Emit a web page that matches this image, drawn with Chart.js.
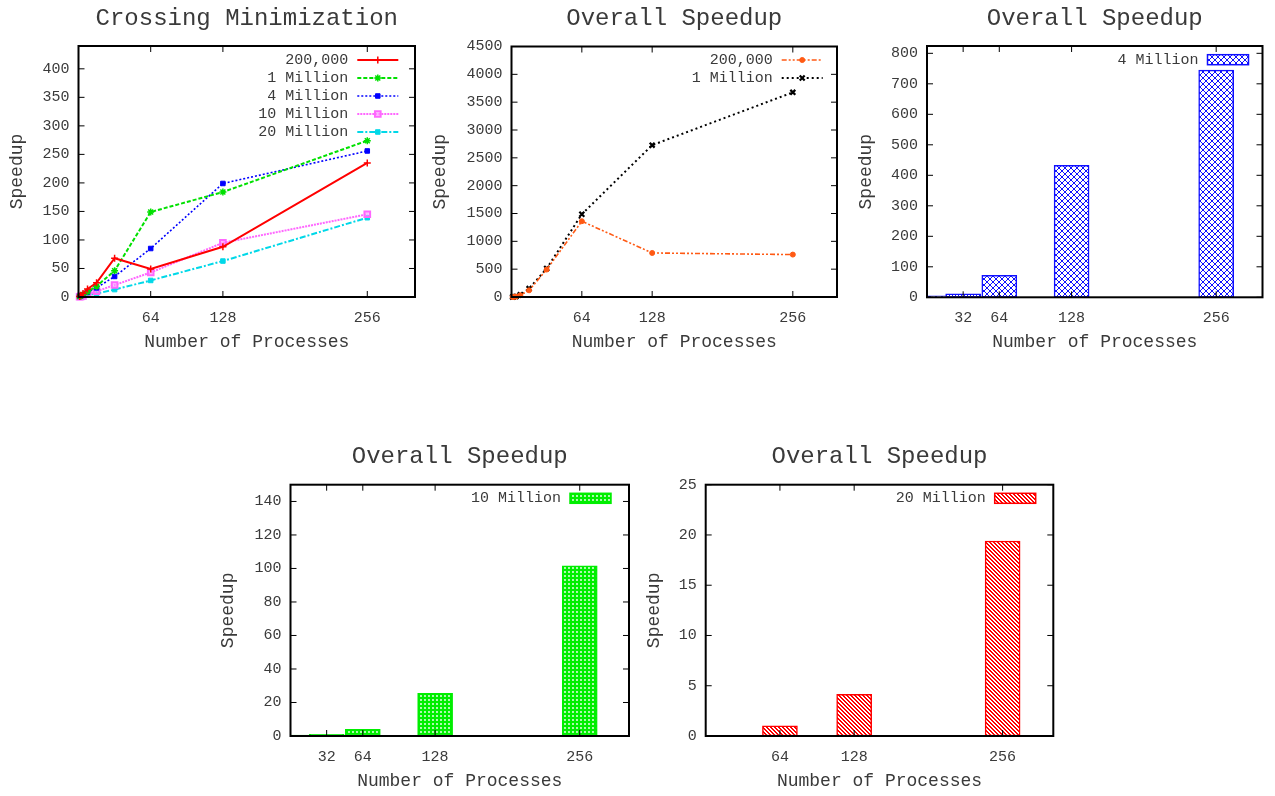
<!DOCTYPE html>
<html>
<head>
<meta charset="utf-8">
<script src="https://cdn.jsdelivr.net/npm/chart.js@4.4.0/dist/chart.umd.min.js"></script>
<style>
  html, body { margin: 0; padding: 0; background: #fff; }
  body { width: 1275px; height: 796px; position: relative; overflow: hidden; }
  canvas { position: absolute; }
</style>
</head>
<body>
<canvas id="c1"></canvas>
<canvas id="c2"></canvas>
<canvas id="c3"></canvas>
<canvas id="c4"></canvas>
<canvas id="c5"></canvas>
<script>
// ---- data ----
const procs = [1, 2, 4, 8, 16, 32, 64, 128, 256];

// Crossing Minimization speedup
const crossing200k = [1, 3, 6, 14, 25, 68, 49, 88, 235];
const crossing1M = [1, 2, 4, 9, 19, 46, 149, 184, 274];
const crossing4M = [1, 2, 4, 8, 16, 36, 85, 199, 256];
const crossing10M = [0.5, 1, 2, 5, 10, 21, 43, 95, 145];
const crossing20M = [0.5, 1, 2, 3, 6, 13, 29, 63, 139];

// Overall speedup (lines)
const overall200k = [1, 2, 8, 30, 120, 493, 1361, 791, 762];
const overall1M = [1, 3, 10, 40, 151, 511, 1487, 2728, 3676];

// Overall speedup (bars)
const procs4M = [2, 4, 8, 16, 32, 64, 128, 256];
const overall4M = [0.5, 1, 2, 5, 11, 72, 433, 745];
const procs10M = [2, 4, 8, 16, 32, 64, 128, 256];
const overall10M = [0.1, 0.15, 0.25, 0.5, 1.0, 4, 25.5, 101.5];
const procs20M = [4, 8, 16, 64, 128, 256];
const overall20M = [0.02, 0.03, 0.05, 1.0, 4.15, 19.4];

// tick labels
const xTicksA = [64, 128, 256];
const xTicksB = [32, 64, 128, 256];
const yTicks1 = [0, 50, 100, 150, 200, 250, 300, 350, 400];
const yTicks2 = [0, 500, 1000, 1500, 2000, 2500, 3000, 3500, 4000, 4500];
const yTicks3 = [0, 100, 200, 300, 400, 500, 600, 700, 800];
const yTicks4 = [0, 20, 40, 60, 80, 100, 120, 140];
const yTicks5 = [0, 5, 10, 15, 20, 25];

const MONO = "'Liberation Mono', 'DejaVu Sans Mono', monospace";
const TEXT = '#3a3a3a';

Chart.defaults.font.family = MONO;
Chart.defaults.font.size = 15;
Chart.defaults.color = TEXT;
Chart.defaults.animation = false;

function pts(xs, ys) {
  return xs.map((x, i) => ({ x: x, y: ys[i] }));
}

// gnuplot-like fill patterns for the bars (drawn pixel by pixel so they stay crisp)
function makePattern(kind, color) {
  const c = document.createElement('canvas');
  const ctx = c.getContext('2d');
  if (kind === 'hatch') {
    c.width = c.height = 4;
    ctx.fillStyle = '#fff';
    ctx.fillRect(0, 0, 4, 4);
    ctx.fillStyle = color;
    for (let i = 0; i < 4; i++) {
      ctx.fillRect(i, i, 1, 1);
      ctx.fillRect((i + 1) % 4, i, 1, 1);
    }
  } else if (kind === 'crosshatch') {
    c.width = c.height = 6;
    ctx.fillStyle = '#fff';
    ctx.fillRect(0, 0, 6, 6);
    ctx.fillStyle = color;
    for (let i = 0; i < 6; i++) {
      ctx.fillRect(i, i, 1, 1);
      ctx.fillRect(5 - i, i, 1, 1);
    }
  } else {
    c.width = c.height = 4;
    ctx.fillStyle = color;
    ctx.fillRect(0, 0, 4, 4);
    ctx.fillStyle = '#fff';
    ctx.beginPath();
    ctx.arc(2, 2, 0.9, 0, Math.PI * 2);
    ctx.fill();
  }
  return ctx.createPattern(c, 'repeat');
}

// border box with inward ticks on all four sides
const gnuFrame = {
  id: 'gnuFrame',
  afterDatasetsDraw(chart) {
    const { ctx, chartArea: a, scales } = chart;
    const x = scales.x, y = scales.y;
    ctx.save();
    ctx.strokeStyle = '#000';
    ctx.lineWidth = 1;
    ctx.beginPath();
    x.ticks.forEach(t => {
      const px = x.getPixelForValue(t.value);
      ctx.moveTo(px, a.bottom); ctx.lineTo(px, a.bottom - 6);
      ctx.moveTo(px, a.top); ctx.lineTo(px, a.top + 6);
    });
    y.ticks.forEach(t => {
      const py = y.getPixelForValue(t.value);
      ctx.moveTo(a.left, py); ctx.lineTo(a.left + 6, py);
      ctx.moveTo(a.right, py); ctx.lineTo(a.right - 6, py);
    });
    ctx.stroke();
    ctx.lineWidth = 2;
    ctx.strokeRect(a.left, a.top, a.right - a.left, a.bottom - a.top);
    ctx.restore();
  }
};

// key in the top right corner: text right aligned, sample after it
const gnuKey = {
  id: 'gnuKey',
  afterDraw(chart, args, opts) {
    const { ctx, chartArea: a } = chart;
    const end = a.right - opts.right;
    const start = end - 41;
    chart.data.datasets.forEach((ds, i) => {
      const yy = a.top + opts.top + i * 18;
      ctx.save();
      ctx.font = '15px ' + MONO;
      ctx.fillStyle = TEXT;
      ctx.textAlign = 'right';
      ctx.textBaseline = 'middle';
      ctx.fillText(ds.label, start - 9, yy);
      if (chart.config.type === 'bar') {
        ctx.fillStyle = ds.backgroundColor;
        ctx.fillRect(start, yy - 5, 41, 10);
        ctx.strokeStyle = ds.borderColor;
        ctx.lineWidth = 1.5;
        ctx.strokeRect(start, yy - 5, 41, 10);
      } else {
        ctx.strokeStyle = ds.borderColor;
        ctx.lineWidth = ds.borderWidth;
        ctx.setLineDash(ds.borderDash || []);
        ctx.beginPath();
        ctx.moveTo(start, yy);
        ctx.lineTo(end, yy);
        ctx.stroke();
        ctx.setLineDash([]);
        ctx.fillStyle = ds.pointBackgroundColor;
        ctx.strokeStyle = ds.pointBorderColor;
        ctx.lineWidth = ds.pointBorderWidth;
        Chart.helpers.drawPoint(ctx, {
          pointStyle: ds.pointStyle, radius: ds.pointRadius,
          borderWidth: ds.pointBorderWidth, rotation: 0
        }, (start + end) / 2, yy);
      }
      ctx.restore();
    });
  }
};

function makeChart(id, box, plot, cfg) {
  const canvas = document.getElementById(id);
  canvas.width = box.w;
  canvas.height = box.h;
  canvas.style.left = box.left + 'px';
  canvas.style.top = box.top + 'px';

  return new Chart(canvas, {
    type: cfg.type,
    data: { datasets: cfg.datasets },
    plugins: [gnuFrame, gnuKey],
    options: {
      responsive: false,
      devicePixelRatio: 1,
      animation: false,
      events: [],
      layout: {
        padding: {
          left: 0, top: 0,
          right: box.left + box.w - plot.R,
          bottom: box.top + box.h - plot.B - 60
        }
      },
      plugins: {
        legend: { display: false },
        tooltip: { enabled: false },
        title: {
          display: true,
          text: cfg.title,
          fullSize: false,
          color: TEXT,
          font: { size: 24, weight: 'normal' },
          padding: { top: 4, bottom: plot.T - box.top - 4 - 28.8 }
        },
        gnuKey: cfg.key
      },
      scales: {
        x: {
          type: 'linear',
          min: 0,
          max: cfg.xmax,
          offset: false,
          grid: { display: false, drawTicks: false, tickLength: 0, offset: false },
          border: { display: false },
          afterBuildTicks: s => { s.ticks = cfg.xTicks.map(v => ({ value: v })); },
          afterFit: s => { s.height = 60; },
          ticks: { padding: 12, autoSkip: false, maxRotation: 0, callback: v => String(v) },
          title: {
            display: true, text: 'Number of Processes', color: TEXT,
            font: { size: 18 }, padding: { top: 0, bottom: 4 }
          }
        },
        y: {
          type: 'linear',
          min: 0,
          max: cfg.ymax,
          grid: { display: false, drawTicks: false, tickLength: 0 },
          border: { display: false },
          afterBuildTicks: s => { s.ticks = cfg.yTicks.map(v => ({ value: v })); },
          afterFit: s => { s.width = plot.L - box.left; },
          ticks: { padding: 9, callback: v => String(v) },
          title: {
            display: true, text: 'Speedup', color: TEXT,
            font: { size: 18 }, padding: { top: 6, bottom: 0 }
          }
        }
      }
    }
  });
}

function lineSet(label, data, color, dash, width, style, radius, fill, pbw) {
  return {
    label: label, data: data,
    borderColor: color, borderWidth: width, borderDash: dash,
    pointStyle: style, pointRadius: radius, pointBorderWidth: pbw,
    pointBorderColor: color, pointBackgroundColor: fill,
    tension: 0, clip: 8, fill: false
  };
}

function barSet(label, data, color, pattern) {
  return {
    label: label, data: data,
    backgroundColor: pattern, borderColor: color, borderWidth: 1.5,
    borderSkipped: false, barThickness: 35
  };
}

// Crossing Minimization
makeChart('c1',
  { left: 0, top: 0, w: 425, h: 360 },
  { L: 78.5, T: 46, R: 415, B: 297 },
  {
    type: 'line', title: 'Crossing Minimization', xmax: 298.3, ymax: 440,
    xTicks: xTicksA, yTicks: yTicks1, key: { right: 16.7, top: 14 },
    datasets: [
      lineSet('200,000', pts(procs, crossing200k), '#ff0000', [], 2, 'cross', 3.5, '#ff0000', 1.5),
      lineSet('1 Million', pts(procs, crossing1M), '#00e000', [4, 2], 2, 'star', 3.5, '#00e000', 1.5),
      lineSet('4 Million', pts(procs, crossing4M), '#0000ff', [2, 2], 1.6, 'rect', 3.2, '#0000ff', 1),
      lineSet('10 Million', pts(procs, crossing10M), '#ff66ff', [2, 1], 2, 'rect', 4, 'rgba(255,160,255,0.6)', 2),
      lineSet('20 Million', pts(procs, crossing20M), '#00d8e8', [6, 2, 2, 2], 2, 'rect', 3.2, '#00d8e8', 1)
    ]
  });

// Overall Speedup, lines
makeChart('c2',
  { left: 423, top: 0, w: 425, h: 360 },
  { L: 511.5, T: 46.5, R: 837, B: 297 },
  {
    type: 'line', title: 'Overall Speedup', xmax: 296.2, ymax: 4500,
    xTicks: xTicksA, yTicks: yTicks2, key: { right: 14.3, top: 13.5 },
    datasets: [
      lineSet('200,000', pts(procs, overall200k), '#ff5a14', [5, 2, 2, 2, 2, 2], 1.6, 'circle', 2.5, '#ff5a14', 1),
      lineSet('1 Million', pts(procs, overall1M), '#000000', [2, 3], 2, 'crossRot', 3.5, '#000000', 2.2)
    ]
  });

// Overall Speedup, 4 Million
makeChart('c3',
  { left: 849, top: 0, w: 426, h: 360 },
  { L: 927, T: 46, R: 1262.5, B: 297.3 },
  {
    type: 'bar', title: 'Overall Speedup', xmax: 297, ymax: 824,
    xTicks: xTicksB, yTicks: yTicks3, key: { right: 14, top: 13.7 },
    datasets: [barSet('4 Million', pts(procs4M, overall4M), '#1010ff', makePattern('crosshatch', '#1010ff'))]
  });

// Overall Speedup, 10 Million
makeChart('c4',
  { left: 211, top: 438, w: 429, h: 358 },
  { L: 290.5, T: 484.7, R: 629, B: 736 },
  {
    type: 'bar', title: 'Overall Speedup', xmax: 299.6, ymax: 150,
    xTicks: xTicksB, yTicks: yTicks4, key: { right: 18, top: 13.6 },
    datasets: [barSet('10 Million', pts(procs10M, overall10M), '#00ee00', makePattern('dots', '#00ee00'))]
  });

// Overall Speedup, 20 Million
makeChart('c5',
  { left: 637, top: 438, w: 426, h: 358 },
  { L: 705.7, T: 484.7, R: 1053.3, B: 736 },
  {
    type: 'bar', title: 'Overall Speedup', xmax: 299.7, ymax: 25,
    xTicks: xTicksA, yTicks: yTicks5, key: { right: 17.6, top: 13.6 },
    datasets: [barSet('20 Million', pts(procs20M, overall20M), '#ff0000', makePattern('hatch', '#ff0000'))]
  });
</script>
</body>
</html>
